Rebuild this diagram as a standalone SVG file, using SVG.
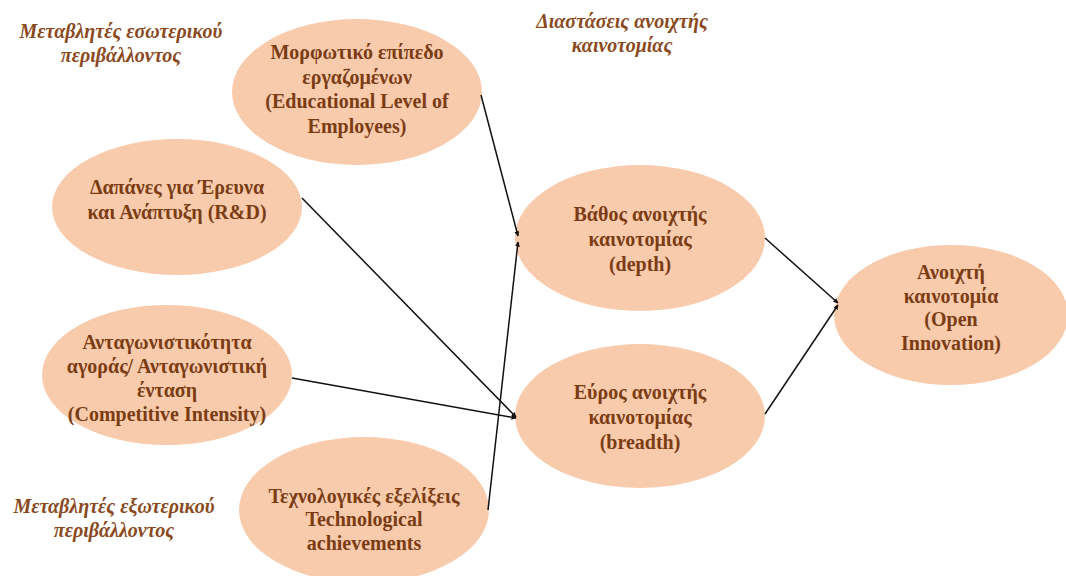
<svg xmlns="http://www.w3.org/2000/svg" width="1066" height="576" viewBox="0 0 1066 576" font-family="'Liberation Serif', 'DejaVu Serif', serif">
<style>
.n{fill:#f8cbad;stroke:none}
.t{font-weight:bold;font-size:20px;fill:#7b3c13;text-anchor:middle}
.l{font-weight:bold;font-style:italic;font-size:20px;fill:#8a4a1e;text-anchor:middle}
.c{stroke:#111;stroke-width:1.5;fill:none;marker-end:url(#a)}
</style>
<defs>
<marker id="a" viewBox="0 0 10 10" refX="9" refY="5" markerWidth="5" markerHeight="5" orient="auto" markerUnits="userSpaceOnUse">
<path d="M0,0L10,5L0,10z" fill="#111"/>
</marker>
</defs>
<rect width="1066" height="576" fill="#fff"/>
<g id="labels">
<text class="l" x="121" y="38">Μεταβλητές εσωτερικού</text>
<text class="l" x="121" y="62">περιβάλλοντος</text>
<text class="l" x="622" y="28">Διαστάσεις ανοιχτής</text>
<text class="l" x="622" y="52">καινοτομίας</text>
<text class="l" x="114" y="513">Μεταβλητές εξωτερικού</text>
<text class="l" x="114" y="537">περιβάλλοντος</text>
</g>
<g id="n1">
<ellipse class="n" cx="357" cy="92" rx="125" ry="73"/>
<text class="t" x="357" y="59">Μορφωτικό επίπεδο</text>
<text class="t" x="357" y="84">εργαζομένων</text>
<text class="t" x="357" y="108">(Educational Level of</text>
<text class="t" x="357" y="133">Employees)</text>
</g>
<g id="n2">
<ellipse class="n" cx="177" cy="207" rx="125" ry="68"/>
<text class="t" x="177" y="194">Δαπάνες για Έρευνα</text>
<text class="t" x="177" y="219">και Ανάπτυξη (R&amp;D)</text>
</g>
<g id="n3">
<ellipse class="n" cx="167" cy="375" rx="125" ry="70"/>
<text class="t" x="167" y="349">Ανταγωνιστικότητα</text>
<text class="t" x="167" y="373">αγοράς/ Ανταγωνιστική</text>
<text class="t" x="167" y="397">ένταση</text>
<text class="t" x="167" y="421">(Competitive Intensity)</text>
</g>
<g id="n4">
<ellipse class="n" cx="364" cy="510" rx="125" ry="73"/>
<text class="t" x="364" y="503">Τεχνολογικές εξελίξεις</text>
<text class="t" x="364" y="526">Technological</text>
<text class="t" x="364" y="550">achievements</text>
</g>
<g id="n5">
<ellipse class="n" cx="640" cy="238" rx="125" ry="73"/>
<text class="t" x="640" y="221">Βάθος ανοιχτής</text>
<text class="t" x="640" y="246">καινοτομίας</text>
<text class="t" x="640" y="271">(depth)</text>
</g>
<g id="n6">
<ellipse class="n" cx="640" cy="416" rx="125" ry="72"/>
<text class="t" x="640" y="399">Εύρος ανοιχτής</text>
<text class="t" x="640" y="424">καινοτομίας</text>
<text class="t" x="640" y="449">(breadth)</text>
</g>
<g id="n7">
<ellipse class="n" cx="951" cy="315" rx="117" ry="70"/>
<text class="t" x="951" y="279">Ανοιχτή</text>
<text class="t" x="951" y="303">καινοτομία</text>
<text class="t" x="951" y="326">(Open</text>
<text class="t" x="951" y="350">Innovation)</text>
</g>
<g id="connectors">
<line class="c" x1="481" y1="95" x2="518" y2="236"/>
<line class="c" x1="488" y1="510" x2="518" y2="242"/>
<line class="c" x1="302" y1="198" x2="516" y2="417"/>
<line class="c" x1="292" y1="378" x2="516" y2="418"/>
<line class="c" x1="765" y1="238" x2="838" y2="303"/>
<line class="c" x1="765" y1="414" x2="838" y2="305"/>
</g>
</svg>
